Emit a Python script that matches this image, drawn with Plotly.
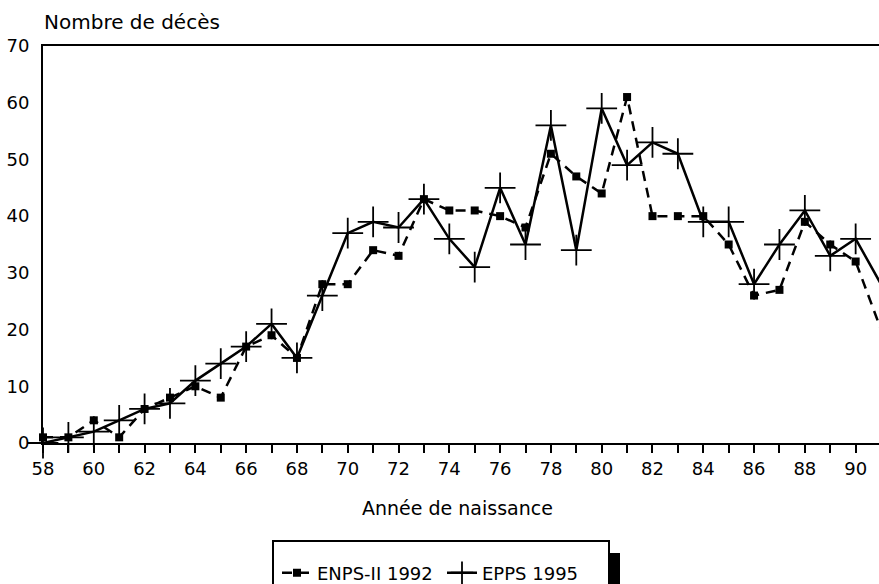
import plotly.graph_objects as go

years = list(range(58, 92))
enps_1992 = [1, 1, 4, 1, 6, 8, 10, 8, 17, 19, 15, 28, 28, 34, 33, 43, 41, 41, 40, 38,
             51, 47, 44, 61, 40, 40, 40, 35, 26, 27, 39, 35, 32, 20]
epps_1995 = [0, 1, 2, 4, 6, 7, 11, 14, 17, 21, 15, 26, 37, 39, 38, 43, 36, 31, 45, 35,
             56, 34, 59, 49, 53, 51, 39, 39, 28, 35, 41, 33, 36, 28]
x_tick_vals = list(range(58, 92))
x_tick_text = [str(v) if v % 2 == 0 else "" for v in x_tick_vals]
y_tick_vals = [0, 10, 20, 30, 40, 50, 60, 70]

FONT = "DejaVu Sans"
W, H = 879, 584
L, R, T, B = 43, 0, 46, 141
PW = W - L - R
PH = H - T - B


def px_x(px):
    return (px - L) / PW


def px_y(py):
    return (H - B - py) / PH


fig = go.Figure()
fig.add_trace(go.Scatter(
    x=years, y=enps_1992, name="ENPS-II 1992", mode="lines+markers",
    line=dict(color="black", width=2.5, dash="10px,7px"),
    marker=dict(symbol="square", size=8, color="black"),
    cliponaxis=False,
))
fig.add_trace(go.Scatter(
    x=years, y=epps_1995, name="EPPS 1995", mode="lines+markers",
    line=dict(color="black", width=2.5),
    marker=dict(symbol="cross-thin", size=22, line=dict(color="black", width=1.8)),
    cliponaxis=False,
))

fig.update_layout(
    width=W, height=H,
    margin=dict(l=L, r=R, t=T, b=B, pad=0, autoexpand=False),
    paper_bgcolor="white", plot_bgcolor="white",
    font=dict(family=FONT, size=18, color="black"),
    showlegend=True,
    legend=dict(
        orientation="h", x=px_x(277), xanchor="left", y=px_y(573), yanchor="middle",
        bgcolor="rgba(0,0,0,0)", borderwidth=0, font=dict(family=FONT, size=18, color="black"),
        entrywidth=120, entrywidthmode="pixels", itemwidth=30,
    ),
    xaxis=dict(
        range=[58, 90.92], tickmode="array", tickvals=x_tick_vals, ticktext=x_tick_text,
        ticks="outside", ticklen=8, tickwidth=1.5, tickcolor="black",
        showline=True, linecolor="black", linewidth=2, mirror=True,
        showgrid=False, zeroline=False, tickfont=dict(size=18), automargin=False,
    ),
    yaxis=dict(
        range=[0, 70], tickmode="array", tickvals=y_tick_vals,
        ticks="", showline=True, linecolor="black", linewidth=2,
        showgrid=False, zeroline=False, tickfont=dict(size=18), ticklabelstandoff=8,
        automargin=False,
    ),
    annotations=[
        dict(text="Nombre de décès", xref="paper", yref="paper", x=px_x(42), y=px_y(22),
             xanchor="left", yanchor="middle", showarrow=False, font=dict(size=20)),
        dict(text="Année de naissance", xref="paper", yref="paper", x=px_x(457), y=px_y(508),
             xanchor="center", yanchor="middle", showarrow=False, font=dict(size=19)),
    ],
    shapes=[
        dict(type="rect", xref="paper", yref="paper", x0=px_x(609), x1=px_x(620),
             y0=px_y(553), y1=px_y(610), fillcolor="black", line=dict(width=0), layer="above"),
        dict(type="rect", xref="paper", yref="paper", x0=px_x(273), x1=px_x(609),
             y0=px_y(541), y1=px_y(610), fillcolor="rgba(0,0,0,0)",
             line=dict(color="black", width=2), layer="above"),
    ],
)

page_fix = (
    "document.body.style.margin='0';"
    "document.body.style.padding='0';"
    "document.documentElement.style.overflow='hidden';"
    "document.body.style.overflow='hidden';"
)
fig.write_html("out.html", post_script=page_fix, config={"displayModeBar": False})
